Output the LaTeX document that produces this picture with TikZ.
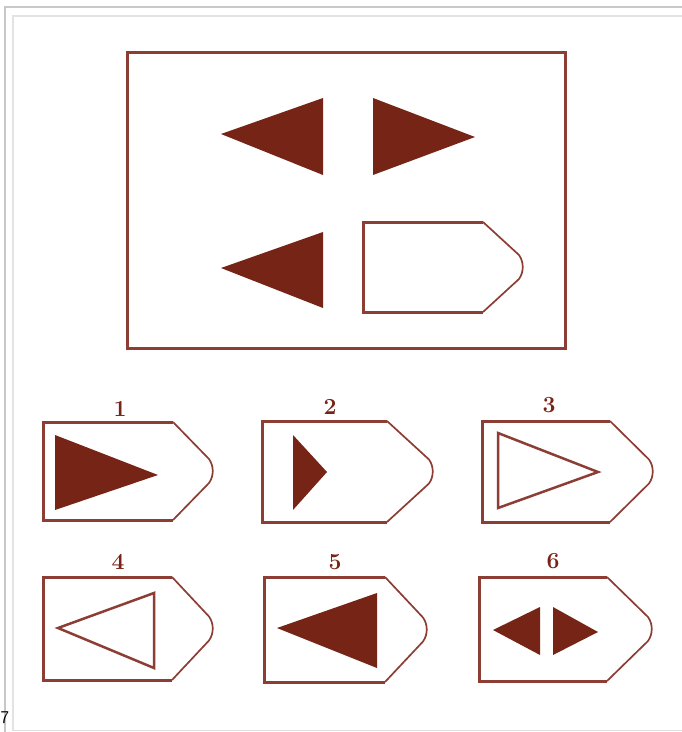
\documentclass[tikz,border=0pt]{standalone}
\usepackage{tikz}
\definecolor{corMarrom}{RGB}{118,36,22}
\definecolor{corTraco}{RGB}{140,62,52}
\definecolor{corBorda}{RGB}{200,200,200}

% placa: esquerda, topo, canto, ponta, base
\newcommand{\placa}[5]{%
  \draw[traco] (#3,#2) -- (#1,#2) -- (#1,#5) -- (#3,#5);
  \draw[traco, line width=1.7pt] (#3,#2) -- ({#4-4},{(#2+#5)/2-12})
    .. controls ({#4+1},{(#2+#5)/2-5}) and ({#4+1},{(#2+#5)/2+5}) .. ({#4-4},{(#2+#5)/2+12})
    -- (#3,#5);
}

\begin{document}
\begin{tikzpicture}[x=1pt, y=-1pt,
    traco/.style={draw=corTraco, line width=3pt, line join=miter},
    cheio/.style={fill=corMarrom},
    vazio/.style={draw=corTraco, line width=2.5pt, line join=miter},
    rotulo/.style={font=\fontsize{23}{23}\selectfont\bfseries, text=corMarrom, inner sep=0pt}
]
\useasboundingbox (0,0) rectangle (682,732);
\fill[white] (0,0) rectangle (682,732);

% moldura cinza
\draw[corBorda, line width=1.2pt] (5,732) -- (5,7) -- (682,7);
\draw[corBorda!50, line width=1.2pt] (13,731) -- (13,16) -- (682,16);
\draw[corBorda!60, line width=1pt] (13,730) -- (682,730);
\node[anchor=west, font=\sffamily\fontsize{18}{18}\selectfont, inner sep=0pt] (num) at (0.5,718) {7};

% quadro principal
\draw[traco] (127,52) rectangle (565,348);
\fill[cheio] (221,134) -- (323,98) -- (323,175) -- cycle;
\fill[cheio] (373,98) -- (475,137) -- (373,175) -- cycle;
\fill[cheio] (221,268) -- (323,232) -- (323,308) -- cycle;
\placa{363}{222}{483}{523}{312}

% alternativas
\node[rotulo] (n1) at (120,409) {1};
\placa{43}{422}{173}{213}{520}
\fill[cheio] (55,435) -- (158,475) -- (55,510) -- cycle;

\node[rotulo] (n2) at (330,407) {2};
\placa{262}{421}{387}{433}{522}
\fill[cheio] (293,435) -- (327,472) -- (293,510) -- cycle;

\node[rotulo] (n3) at (549,405) {3};
\placa{482}{421}{610}{653}{522}
\draw[vazio] (498,433) -- (598,472) -- (498,508) -- cycle;

\node[rotulo] (n4) at (118,562) {4};
\placa{43}{577}{172}{213}{680}
\draw[vazio] (58,628) -- (154,593) -- (154,668) -- cycle;

\node[rotulo] (n5) at (335,562) {5};
\placa{264}{577}{385}{427}{682}
\fill[cheio] (277,628) -- (377,593) -- (377,668) -- cycle;

\node[rotulo] (n6) at (553,561) {6};
\placa{479}{577}{607}{652}{681}
\fill[cheio] (493,630) -- (540,607) -- (540,655) -- cycle;
\fill[cheio] (553,607) -- (598,632) -- (553,655) -- cycle;
\end{tikzpicture}
\end{document}
